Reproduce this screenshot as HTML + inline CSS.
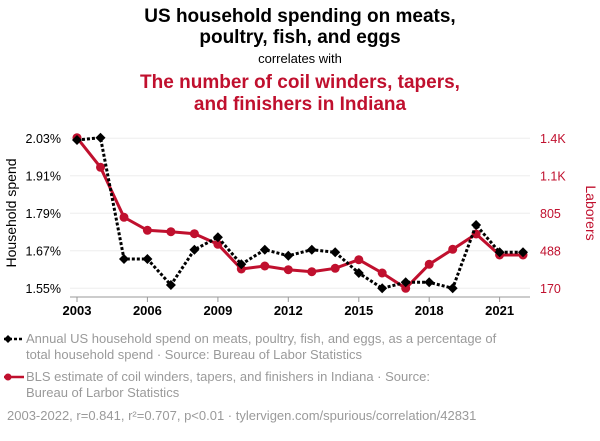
<!DOCTYPE html>
<html><head><meta charset="utf-8"><style>
body{margin:0;background:#fff;width:600px;height:436px;overflow:hidden;font-family:"Liberation Sans",sans-serif}
</style></head><body>
<svg width="600" height="436" xmlns="http://www.w3.org/2000/svg" font-family="Liberation Sans, sans-serif">
<text x="300" y="22" text-anchor="middle" font-size="19" font-weight="bold" fill="#000">US household spending on meats,</text>
<text x="300" y="43" text-anchor="middle" font-size="19" font-weight="bold" fill="#000">poultry, fish, and eggs</text>
<text x="300" y="63" text-anchor="middle" font-size="13" fill="#000">correlates with</text>
<text x="300" y="88" text-anchor="middle" font-size="19" font-weight="bold" fill="#c0102e">The number of coil winders, tapers,</text>
<text x="300" y="110" text-anchor="middle" font-size="19" font-weight="bold" fill="#c0102e">and finishers in Indiana</text>
<g stroke="#eee" stroke-width="1">
<line x1="70" x2="530" y1="138.3" y2="138.3"/><line x1="70" x2="530" y1="175.8" y2="175.8"/><line x1="70" x2="530" y1="213.3" y2="213.3"/><line x1="70" x2="530" y1="250.8" y2="250.8"/><line x1="70" x2="530" y1="288.3" y2="288.3"/>
</g>
<line x1="70" x2="530" y1="297" y2="297" stroke="#999"/>
<g stroke="#999"><line x1="77" x2="77" y1="297" y2="302"/><line x1="147.4" x2="147.4" y1="297" y2="302"/><line x1="217.9" x2="217.9" y1="297" y2="302"/><line x1="288.3" x2="288.3" y1="297" y2="302"/><line x1="358.8" x2="358.8" y1="297" y2="302"/><line x1="429.2" x2="429.2" y1="297" y2="302"/><line x1="499.6" x2="499.6" y1="297" y2="302"/></g>
<g font-size="13" font-weight="bold" text-anchor="middle" fill="#000"><text x="77" y="315">2003</text><text x="147.4" y="315">2006</text><text x="217.9" y="315">2009</text><text x="288.3" y="315">2012</text><text x="358.8" y="315">2015</text><text x="429.2" y="315">2018</text><text x="499.6" y="315">2021</text></g>
<g font-size="12.5" text-anchor="end" fill="#000"><text x="61" y="143">2.03%</text><text x="61" y="180.5">1.91%</text><text x="61" y="218">1.79%</text><text x="61" y="255.5">1.67%</text><text x="61" y="293">1.55%</text></g>
<g font-size="12.5" fill="#c0102e"><text x="540" y="143">1.4K</text><text x="540" y="180.5">1.1K</text><text x="540" y="218">805</text><text x="540" y="255.5">488</text><text x="540" y="293">170</text></g>
<text transform="translate(16,213) rotate(-90)" text-anchor="middle" font-size="14" fill="#000">Household spend</text>
<text transform="translate(586,213) rotate(90)" text-anchor="middle" font-size="14" fill="#c0102e">Laborers</text>
<polyline fill="none" stroke="#c0102e" stroke-width="3" points="77,137.7 100.5,167.3 124,217.3 147.4,230.3 170.9,231.7 194.4,233.7 217.9,244.3 241.3,269 264.8,266 288.3,269.7 311.8,271.7 335.2,268.3 358.8,259.7 382.2,273 405.7,288.3 429.2,264.3 452.7,249.3 476.1,234 499.6,255 523,255"/>
<g fill="#c0102e"><circle cx="77" cy="137.7" r="4.5"/><circle cx="100.5" cy="167.3" r="4.5"/><circle cx="124" cy="217.3" r="4.5"/><circle cx="147.4" cy="230.3" r="4.5"/><circle cx="170.9" cy="231.7" r="4.5"/><circle cx="194.4" cy="233.7" r="4.5"/><circle cx="217.9" cy="244.3" r="4.5"/><circle cx="241.3" cy="269" r="4.5"/><circle cx="264.8" cy="266" r="4.5"/><circle cx="288.3" cy="269.7" r="4.5"/><circle cx="311.8" cy="271.7" r="4.5"/><circle cx="335.2" cy="268.3" r="4.5"/><circle cx="358.8" cy="259.7" r="4.5"/><circle cx="382.2" cy="273" r="4.5"/><circle cx="405.7" cy="288.3" r="4.5"/><circle cx="429.2" cy="264.3" r="4.5"/><circle cx="452.7" cy="249.3" r="4.5"/><circle cx="476.1" cy="234" r="4.5"/><circle cx="499.6" cy="255" r="4.5"/><circle cx="523" cy="255" r="4.5"/></g>
<polyline fill="none" stroke="#000" stroke-width="3" stroke-dasharray="3,2" points="77,140 100.5,137.7 124,259 147.4,259 170.9,285 194.4,249.7 217.9,237.3 241.3,264.3 264.8,249.7 288.3,255.7 311.8,249.7 335.2,252.3 358.8,273 382.2,288.3 405.7,282.3 429.2,282.3 452.7,288.3 476.1,225 499.6,252.3 523,252.3"/>
<g fill="#000">
<path d="M77,135l5,5-5,5-5-5z"/><path d="M100.5,132.7l5,5-5,5-5-5z"/><path d="M124,254l5,5-5,5-5-5z"/><path d="M147.4,254l5,5-5,5-5-5z"/><path d="M170.9,280l5,5-5,5-5-5z"/><path d="M194.4,244.7l5,5-5,5-5-5z"/><path d="M217.9,232.3l5,5-5,5-5-5z"/><path d="M241.3,259.3l5,5-5,5-5-5z"/><path d="M264.8,244.7l5,5-5,5-5-5z"/><path d="M288.3,250.7l5,5-5,5-5-5z"/><path d="M311.8,244.7l5,5-5,5-5-5z"/><path d="M335.2,247.3l5,5-5,5-5-5z"/><path d="M358.8,268l5,5-5,5-5-5z"/><path d="M382.2,283.3l5,5-5,5-5-5z"/><path d="M405.7,277.3l5,5-5,5-5-5z"/><path d="M429.2,277.3l5,5-5,5-5-5z"/><path d="M452.7,283.3l5,5-5,5-5-5z"/><path d="M476.1,220l5,5-5,5-5-5z"/><path d="M499.6,247.3l5,5-5,5-5-5z"/><path d="M523,247.3l5,5-5,5-5-5z"/>
</g>
<line x1="4" x2="24" y1="339" y2="339" stroke="#000" stroke-width="2.5" stroke-dasharray="3,2"/>
<path d="M8,335l4,4-4,4-4-4z" fill="#000"/>
<text x="26" y="343" font-size="13" fill="#9a9a9a">Annual US household spend on meats, poultry, fish, and eggs, as a percentage of</text>
<text x="26" y="359" font-size="13" fill="#9a9a9a">total household spend · Source: Bureau of Labor Statistics</text>
<line x1="4" x2="24" y1="377" y2="377" stroke="#c0102e" stroke-width="2.5"/>
<circle cx="8" cy="377" r="3.5" fill="#c0102e"/>
<text x="26" y="381" font-size="13" fill="#9a9a9a">BLS estimate of coil winders, tapers, and finishers in Indiana · Source:</text>
<text x="26" y="397" font-size="13" fill="#9a9a9a">Bureau of Larbor Statistics</text>
<text x="7" y="420" font-size="13" fill="#9a9a9a">2003-2022, r=0.841, r²=0.707, p&lt;0.01 · tylervigen.com/spurious/correlation/42831</text>
</svg>
</body></html>
